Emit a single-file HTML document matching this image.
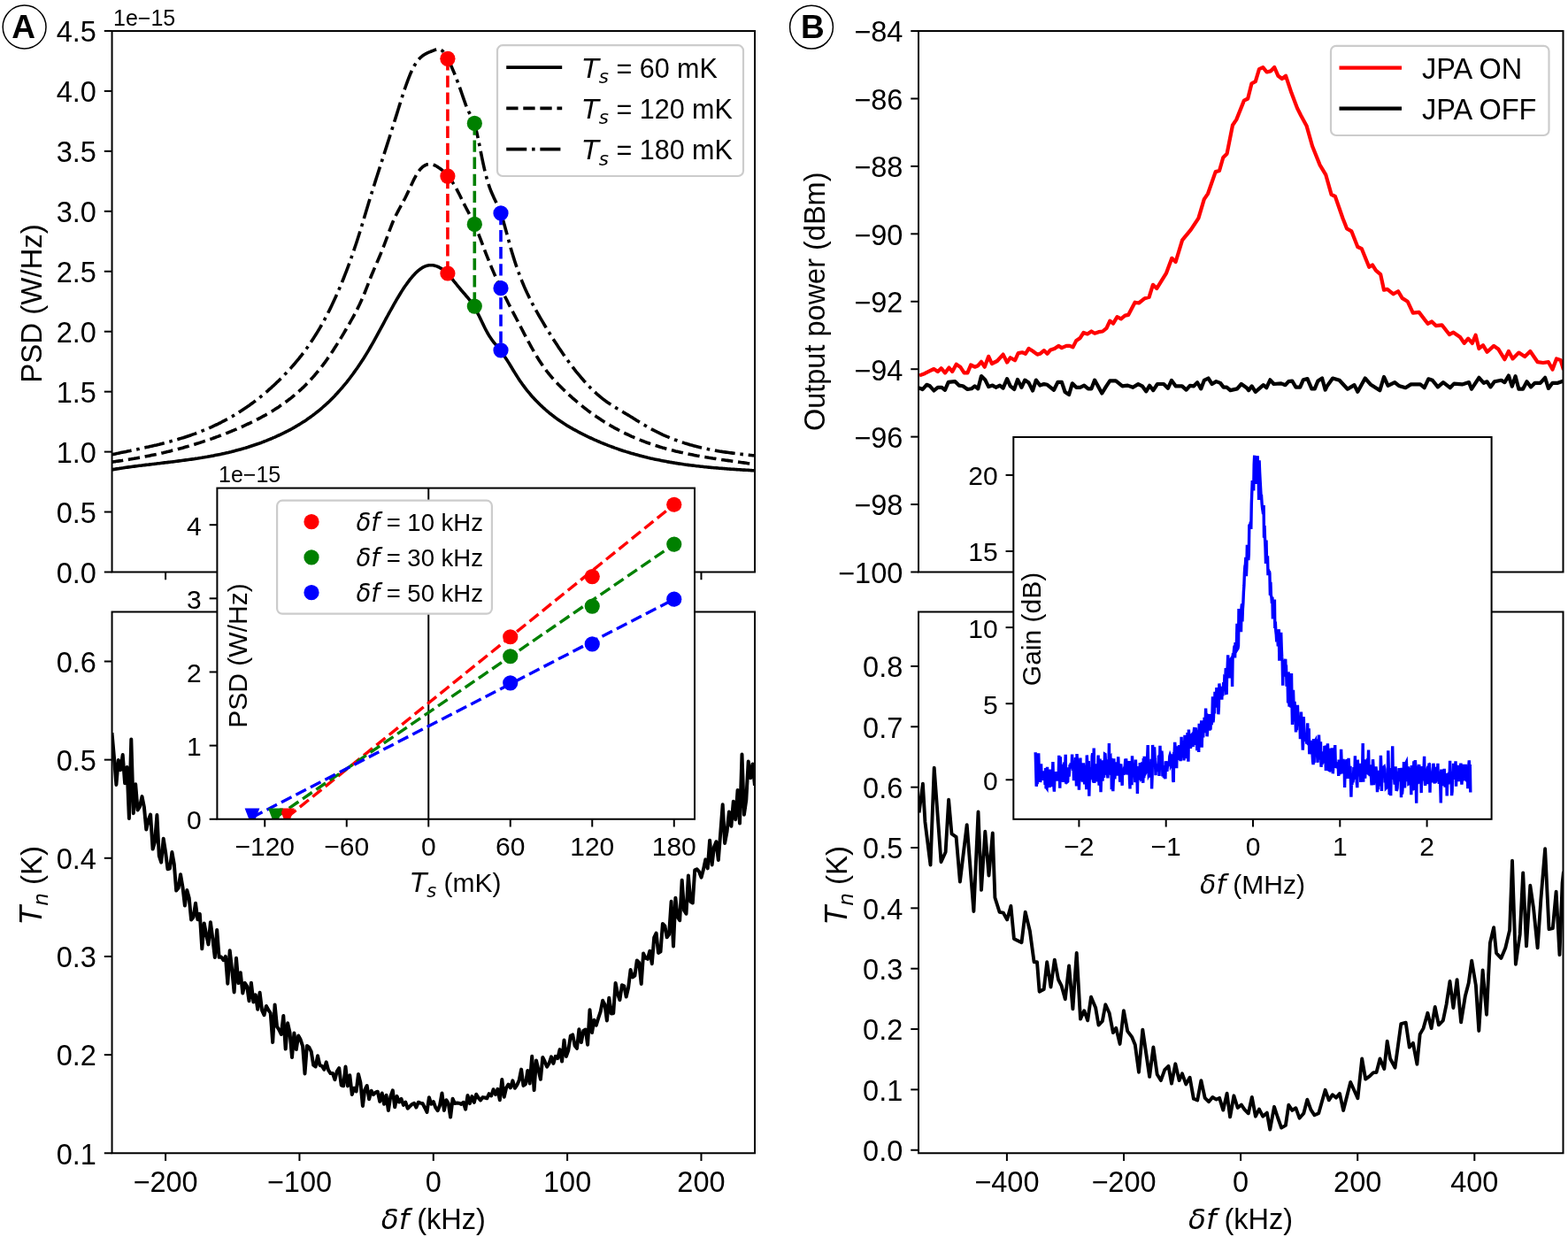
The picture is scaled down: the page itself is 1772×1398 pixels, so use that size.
<!DOCTYPE html>
<html><head><meta charset="utf-8"><title>Figure</title>
<style>html,body{margin:0;padding:0;background:#fff;overflow:hidden;}svg{display:block;}</style>
</head><body>
<svg width="1772" height="1398" viewBox="0 0 1772 1398" font-family="'Liberation Sans', Arial, sans-serif">
<defs>
<clipPath id="ca1"><rect x="126.55" y="35.05" width="726.45" height="611.45"/></clipPath>
<clipPath id="ca2"><rect x="126.55" y="691.50" width="726.45" height="611.75"/></clipPath>
<clipPath id="ca3"><rect x="245.40" y="551.60" width="539.60" height="374.15"/></clipPath>
<clipPath id="cb1"><rect x="1038.00" y="35.05" width="728.50" height="611.45"/></clipPath>
<clipPath id="cb2"><rect x="1038.00" y="691.50" width="728.50" height="611.75"/></clipPath>
<clipPath id="cb3"><rect x="1145.30" y="494.00" width="540.30" height="431.80"/></clipPath>
</defs>
<rect width="1772" height="1398" fill="#fff"/>
<polyline points="126.0,530.9 127.5,530.6 129.0,530.4 130.5,530.1 132.0,529.9 133.5,529.7 135.0,529.4 136.5,529.2 138.0,529.0 139.5,528.8 141.0,528.5 142.5,528.3 144.0,528.1 145.5,527.9 147.0,527.7 148.5,527.5 150.0,527.3 151.5,527.1 153.0,526.9 154.5,526.7 156.0,526.5 157.5,526.3 159.0,526.2 160.5,526.0 162.0,525.8 163.5,525.6 165.0,525.4 166.5,525.2 168.0,525.1 169.5,524.9 171.0,524.7 172.5,524.5 174.0,524.4 175.5,524.2 177.0,524.0 178.5,523.8 180.0,523.7 181.5,523.5 183.0,523.3 184.5,523.1 186.0,522.9 187.5,522.8 189.0,522.6 190.5,522.4 192.0,522.2 193.5,522.0 195.0,521.9 196.5,521.7 198.0,521.5 199.5,521.3 201.0,521.1 202.5,520.9 204.0,520.7 205.5,520.5 207.0,520.3 208.5,520.1 210.0,519.9 211.5,519.7 213.0,519.5 214.5,519.3 216.0,519.1 217.5,518.9 219.0,518.7 220.5,518.4 222.0,518.2 223.5,518.0 225.0,517.7 226.5,517.5 228.0,517.3 229.5,517.0 231.0,516.8 232.5,516.5 234.0,516.3 235.5,516.0 237.0,515.7 238.5,515.4 240.0,515.2 241.5,514.9 243.0,514.6 244.5,514.3 246.0,514.0 247.5,513.7 249.0,513.4 250.5,513.1 252.0,512.7 253.5,512.4 255.0,512.1 256.5,511.7 258.0,511.4 259.5,511.0 261.0,510.7 262.5,510.3 264.0,509.9 265.5,509.5 267.0,509.1 268.5,508.7 270.0,508.3 271.5,507.9 273.0,507.5 274.5,507.1 276.0,506.6 277.5,506.2 279.0,505.7 280.5,505.3 282.0,504.8 283.5,504.3 285.0,503.8 286.5,503.3 288.0,502.8 289.5,502.3 291.0,501.8 292.5,501.3 294.0,500.7 295.5,500.2 297.0,499.6 298.5,499.0 300.0,498.4 301.5,497.9 303.0,497.2 304.5,496.6 306.0,496.0 307.5,495.4 309.0,494.7 310.5,494.1 312.0,493.4 313.5,492.7 315.0,492.0 316.5,491.3 318.0,490.6 319.5,489.9 321.0,489.2 322.5,488.4 324.0,487.6 325.5,486.9 327.0,486.1 328.5,485.3 330.0,484.5 331.5,483.6 333.0,482.8 334.5,481.9 336.0,481.0 337.5,480.1 339.0,479.2 340.5,478.3 342.0,477.3 343.5,476.4 345.0,475.4 346.5,474.4 348.0,473.3 349.5,472.3 351.0,471.2 352.5,470.1 354.0,469.0 355.5,467.9 357.0,466.7 358.5,465.5 360.0,464.3 361.5,463.1 363.0,461.8 364.5,460.5 366.0,459.2 367.5,457.9 369.0,456.5 370.5,455.1 372.0,453.7 373.5,452.2 375.0,450.7 376.5,449.2 378.0,447.7 379.5,446.1 381.0,444.5 382.5,442.8 384.0,441.1 385.5,439.4 387.0,437.7 388.5,435.9 390.0,434.1 391.5,432.3 393.0,430.4 394.5,428.5 396.0,426.5 397.5,424.5 399.0,422.5 400.5,420.4 402.0,418.3 403.5,416.2 405.0,414.0 406.5,411.8 408.0,409.5 409.5,407.2 411.0,404.9 412.5,402.5 414.0,400.1 415.5,397.6 417.0,395.1 418.5,392.5 420.0,389.9 421.5,387.3 423.0,384.6 424.5,381.9 426.0,379.2 427.5,376.4 429.0,373.6 430.5,370.9 432.0,368.1 433.5,365.3 435.0,362.5 436.5,359.7 438.0,357.0 439.5,354.2 441.0,351.5 442.5,348.8 444.0,346.1 445.5,343.4 447.0,340.8 448.5,338.2 450.0,335.7 451.5,333.2 453.0,330.8 454.5,328.4 456.0,326.1 457.5,323.8 459.0,321.7 460.5,319.6 462.0,317.6 463.5,315.6 465.0,313.8 466.5,312.0 468.0,310.4 469.5,308.8 471.0,307.4 472.5,306.0 474.0,304.8 475.5,303.7 477.0,302.7 478.5,301.9 480.0,301.2 481.5,300.6 483.0,300.2 484.5,299.8 486.0,299.7 487.5,299.7 489.0,299.8 490.5,300.0 492.0,300.4 493.5,300.9 495.0,301.5 496.5,302.2 498.0,303.1 499.5,304.1 501.0,305.2 502.5,306.4 504.0,307.7 505.5,309.2 507.0,310.7 508.5,312.4 510.0,314.1 511.5,315.9 513.0,317.8 514.5,319.6 516.0,321.5 517.5,323.4 519.0,325.2 520.5,327.0 522.0,328.8 523.5,330.5 525.0,332.2 526.5,334.0 528.0,335.7 529.5,337.5 531.0,339.4 532.5,341.5 534.0,343.7 535.5,346.0 537.0,348.6 538.5,351.4 540.0,354.3 541.5,357.3 543.0,360.4 544.5,363.5 546.0,366.6 547.5,369.7 549.0,372.7 550.5,375.5 552.0,378.1 553.5,380.6 555.0,382.8 556.5,384.9 558.0,386.8 559.5,388.7 561.0,390.5 562.5,392.3 564.0,394.2 565.5,396.1 567.0,398.1 568.5,400.2 570.0,402.4 571.5,404.7 573.0,407.0 574.5,409.4 576.0,411.8 577.5,414.3 579.0,416.7 580.5,419.2 582.0,421.6 583.5,424.0 585.0,426.4 586.5,428.7 588.0,430.9 589.5,433.1 591.0,435.2 592.5,437.2 594.0,439.2 595.5,441.1 597.0,442.9 598.5,444.7 600.0,446.5 601.5,448.2 603.0,449.8 604.5,451.4 606.0,453.0 607.5,454.5 609.0,456.0 610.5,457.5 612.0,458.9 613.5,460.3 615.0,461.6 616.5,463.0 618.0,464.3 619.5,465.5 621.0,466.8 622.5,468.0 624.0,469.2 625.5,470.3 627.0,471.5 628.5,472.6 630.0,473.7 631.5,474.7 633.0,475.8 634.5,476.8 636.0,477.8 637.5,478.8 639.0,479.7 640.5,480.7 642.0,481.6 643.5,482.5 645.0,483.4 646.5,484.2 648.0,485.1 649.5,485.9 651.0,486.7 652.5,487.5 654.0,488.3 655.5,489.1 657.0,489.9 658.5,490.6 660.0,491.4 661.5,492.1 663.0,492.9 664.5,493.6 666.0,494.3 667.5,495.0 669.0,495.7 670.5,496.4 672.0,497.1 673.5,497.7 675.0,498.4 676.5,499.0 678.0,499.7 679.5,500.3 681.0,500.9 682.5,501.5 684.0,502.1 685.5,502.7 687.0,503.3 688.5,503.9 690.0,504.4 691.5,505.0 693.0,505.5 694.5,506.1 696.0,506.6 697.5,507.1 699.0,507.7 700.5,508.2 702.0,508.7 703.5,509.2 705.0,509.7 706.5,510.1 708.0,510.6 709.5,511.1 711.0,511.5 712.5,512.0 714.0,512.4 715.5,512.8 717.0,513.3 718.5,513.7 720.0,514.1 721.5,514.5 723.0,514.9 724.5,515.3 726.0,515.7 727.5,516.1 729.0,516.4 730.5,516.8 732.0,517.2 733.5,517.5 735.0,517.9 736.5,518.2 738.0,518.6 739.5,518.9 741.0,519.2 742.5,519.5 744.0,519.8 745.5,520.1 747.0,520.4 748.5,520.7 750.0,521.0 751.5,521.3 753.0,521.6 754.5,521.9 756.0,522.1 757.5,522.4 759.0,522.6 760.5,522.9 762.0,523.1 763.5,523.4 765.0,523.6 766.5,523.9 768.0,524.1 769.5,524.3 771.0,524.5 772.5,524.8 774.0,525.0 775.5,525.2 777.0,525.4 778.5,525.6 780.0,525.8 781.5,526.0 783.0,526.1 784.5,526.3 786.0,526.5 787.5,526.7 789.0,526.8 790.5,527.0 792.0,527.2 793.5,527.3 795.0,527.5 796.5,527.7 798.0,527.8 799.5,528.0 801.0,528.1 802.5,528.2 804.0,528.4 805.5,528.5 807.0,528.7 808.5,528.8 810.0,528.9 811.5,529.0 813.0,529.2 814.5,529.3 816.0,529.4 817.5,529.5 819.0,529.6 820.5,529.7 822.0,529.9 823.5,530.0 825.0,530.1 826.5,530.2 828.0,530.3 829.5,530.4 831.0,530.5 832.5,530.6 834.0,530.7 835.5,530.8 837.0,530.9 838.5,531.0 840.0,531.1 841.5,531.1 843.0,531.2 844.5,531.3 846.0,531.4 847.5,531.5 849.0,531.6 850.5,531.7 852.0,531.8 853.5,531.8" fill="none" stroke="#000" stroke-width="3.6" stroke-linecap="square" stroke-linejoin="round" clip-path="url(#ca1)" />
<polyline points="126.0,522.2 127.5,522.0 129.0,521.8 130.5,521.6 132.0,521.3 133.5,521.1 135.0,520.9 136.5,520.7 138.0,520.5 139.5,520.2 141.0,520.0 142.5,519.8 144.0,519.5 145.5,519.3 147.0,519.0 148.5,518.8 150.0,518.5 151.5,518.3 153.0,518.0 154.5,517.8 156.0,517.5 157.5,517.2 159.0,517.0 160.5,516.7 162.0,516.4 163.5,516.1 165.0,515.8 166.5,515.5 168.0,515.2 169.5,514.9 171.0,514.6 172.5,514.3 174.0,514.0 175.5,513.7 177.0,513.4 178.5,513.0 180.0,512.7 181.5,512.4 183.0,512.0 184.5,511.7 186.0,511.3 187.5,511.0 189.0,510.6 190.5,510.3 192.0,509.9 193.5,509.5 195.0,509.1 196.5,508.8 198.0,508.4 199.5,508.0 201.0,507.6 202.5,507.2 204.0,506.8 205.5,506.4 207.0,506.0 208.5,505.5 210.0,505.1 211.5,504.7 213.0,504.3 214.5,503.8 216.0,503.4 217.5,502.9 219.0,502.5 220.5,502.0 222.0,501.5 223.5,501.1 225.0,500.6 226.5,500.1 228.0,499.6 229.5,499.1 231.0,498.6 232.5,498.1 234.0,497.6 235.5,497.1 237.0,496.6 238.5,496.1 240.0,495.6 241.5,495.0 243.0,494.5 244.5,493.9 246.0,493.4 247.5,492.8 249.0,492.3 250.5,491.7 252.0,491.1 253.5,490.5 255.0,490.0 256.5,489.4 258.0,488.8 259.5,488.2 261.0,487.6 262.5,486.9 264.0,486.3 265.5,485.7 267.0,485.1 268.5,484.4 270.0,483.8 271.5,483.1 273.0,482.5 274.5,481.8 276.0,481.1 277.5,480.4 279.0,479.7 280.5,479.0 282.0,478.3 283.5,477.6 285.0,476.9 286.5,476.2 288.0,475.4 289.5,474.7 291.0,473.9 292.5,473.1 294.0,472.3 295.5,471.5 297.0,470.7 298.5,469.9 300.0,469.1 301.5,468.2 303.0,467.4 304.5,466.5 306.0,465.6 307.5,464.7 309.0,463.7 310.5,462.8 312.0,461.8 313.5,460.9 315.0,459.9 316.5,458.8 318.0,457.8 319.5,456.8 321.0,455.7 322.5,454.6 324.0,453.5 325.5,452.4 327.0,451.2 328.5,450.1 330.0,448.9 331.5,447.6 333.0,446.4 334.5,445.1 336.0,443.8 337.5,442.5 339.0,441.1 340.5,439.8 342.0,438.4 343.5,436.9 345.0,435.4 346.5,433.9 348.0,432.4 349.5,430.8 351.0,429.2 352.5,427.6 354.0,425.9 355.5,424.2 357.0,422.4 358.5,420.6 360.0,418.8 361.5,416.9 363.0,415.0 364.5,413.1 366.0,411.1 367.5,409.1 369.0,407.0 370.5,404.9 372.0,402.7 373.5,400.5 375.0,398.2 376.5,395.9 378.0,393.6 379.5,391.3 381.0,388.9 382.5,386.5 384.0,384.0 385.5,381.6 387.0,379.1 388.5,376.6 390.0,374.0 391.5,371.5 393.0,368.9 394.5,366.3 396.0,363.7 397.5,361.0 399.0,358.3 400.5,355.6 402.0,352.8 403.5,349.9 405.0,346.9 406.5,343.8 408.0,340.5 409.5,337.2 411.0,333.7 412.5,330.0 414.0,326.2 415.5,322.3 417.0,318.3 418.5,314.5 420.0,310.8 421.5,307.2 423.0,303.6 424.5,300.1 426.0,296.7 427.5,293.2 429.0,289.7 430.5,286.1 432.0,282.4 433.5,278.6 435.0,274.6 436.5,270.6 438.0,266.5 439.5,262.4 441.0,258.3 442.5,254.5 444.0,250.8 445.5,247.4 447.0,244.2 448.5,241.2 450.0,238.3 451.5,235.5 453.0,232.8 454.5,230.1 456.0,227.3 457.5,224.5 459.0,221.5 460.5,218.4 462.0,215.2 463.5,211.9 465.0,208.7 466.5,205.5 468.0,202.4 469.5,199.6 471.0,196.9 472.5,194.5 474.0,192.5 475.5,190.7 477.0,189.2 478.5,188.0 480.0,187.0 481.5,186.3 483.0,185.8 484.5,185.6 486.0,185.5 487.5,185.7 489.0,186.0 490.5,186.5 492.0,187.2 493.5,188.0 495.0,188.9 496.5,189.9 498.0,191.0 499.5,192.2 501.0,193.5 502.5,194.9 504.0,196.5 505.5,198.1 507.0,199.9 508.5,201.8 510.0,203.9 511.5,206.1 513.0,208.5 514.5,211.0 516.0,213.7 517.5,216.6 519.0,219.5 520.5,222.5 522.0,225.6 523.5,228.6 525.0,231.6 526.5,234.5 528.0,237.3 529.5,240.1 531.0,243.0 532.5,245.9 534.0,248.9 535.5,252.0 537.0,255.4 538.5,258.9 540.0,262.5 541.5,266.3 543.0,270.2 544.5,274.2 546.0,278.1 547.5,282.1 549.0,286.1 550.5,289.9 552.0,293.7 553.5,297.4 555.0,301.1 556.5,304.6 558.0,308.1 559.5,311.5 561.0,314.8 562.5,318.1 564.0,321.3 565.5,324.5 567.0,327.6 568.5,330.7 570.0,333.8 571.5,336.8 573.0,339.7 574.5,342.7 576.0,345.6 577.5,348.5 579.0,351.4 580.5,354.3 582.0,357.2 583.5,360.0 585.0,362.9 586.5,365.8 588.0,368.6 589.5,371.5 591.0,374.4 592.5,377.3 594.0,380.1 595.5,383.0 597.0,385.8 598.5,388.5 600.0,391.3 601.5,394.0 603.0,396.6 604.5,399.2 606.0,401.8 607.5,404.3 609.0,406.7 610.5,409.0 612.0,411.3 613.5,413.5 615.0,415.6 616.5,417.6 618.0,419.6 619.5,421.5 621.0,423.3 622.5,425.1 624.0,426.9 625.5,428.6 627.0,430.2 628.5,431.8 630.0,433.4 631.5,435.0 633.0,436.5 634.5,438.0 636.0,439.5 637.5,440.9 639.0,442.4 640.5,443.8 642.0,445.2 643.5,446.6 645.0,447.9 646.5,449.3 648.0,450.6 649.5,451.9 651.0,453.2 652.5,454.5 654.0,455.7 655.5,457.0 657.0,458.2 658.5,459.4 660.0,460.6 661.5,461.8 663.0,462.9 664.5,464.1 666.0,465.2 667.5,466.3 669.0,467.4 670.5,468.4 672.0,469.5 673.5,470.5 675.0,471.6 676.5,472.6 678.0,473.6 679.5,474.6 681.0,475.5 682.5,476.5 684.0,477.4 685.5,478.3 687.0,479.2 688.5,480.1 690.0,481.0 691.5,481.9 693.0,482.7 694.5,483.6 696.0,484.4 697.5,485.2 699.0,486.0 700.5,486.8 702.0,487.6 703.5,488.3 705.0,489.1 706.5,489.8 708.0,490.5 709.5,491.2 711.0,491.9 712.5,492.6 714.0,493.3 715.5,493.9 717.0,494.6 718.5,495.2 720.0,495.9 721.5,496.5 723.0,497.1 724.5,497.7 726.0,498.3 727.5,498.8 729.0,499.4 730.5,500.0 732.0,500.5 733.5,501.0 735.0,501.6 736.5,502.1 738.0,502.6 739.5,503.1 741.0,503.6 742.5,504.0 744.0,504.5 745.5,505.0 747.0,505.4 748.5,505.9 750.0,506.3 751.5,506.7 753.0,507.2 754.5,507.6 756.0,508.0 757.5,508.4 759.0,508.8 760.5,509.1 762.0,509.5 763.5,509.9 765.0,510.2 766.5,510.6 768.0,510.9 769.5,511.3 771.0,511.6 772.5,512.0 774.0,512.3 775.5,512.6 777.0,512.9 778.5,513.2 780.0,513.5 781.5,513.8 783.0,514.1 784.5,514.4 786.0,514.7 787.5,515.0 789.0,515.2 790.5,515.5 792.0,515.8 793.5,516.0 795.0,516.3 796.5,516.5 798.0,516.8 799.5,517.0 801.0,517.3 802.5,517.5 804.0,517.7 805.5,518.0 807.0,518.2 808.5,518.4 810.0,518.7 811.5,518.9 813.0,519.1 814.5,519.3 816.0,519.6 817.5,519.8 819.0,520.0 820.5,520.2 822.0,520.4 823.5,520.6 825.0,520.8 826.5,521.0 828.0,521.3 829.5,521.5 831.0,521.7 832.5,521.9 834.0,522.1 835.5,522.3 837.0,522.5 838.5,522.7 840.0,522.9 841.5,523.1 843.0,523.3 844.5,523.6 846.0,523.8 847.5,524.0 849.0,524.2 850.5,524.4 852.0,524.6 853.5,524.9" fill="none" stroke="#000" stroke-width="3.6" stroke-linecap="butt" stroke-linejoin="round" stroke-dasharray="13.32 5.76" clip-path="url(#ca1)" />
<polyline points="126.0,513.8 127.5,513.5 129.0,513.2 130.5,512.9 132.0,512.6 133.5,512.3 135.0,511.9 136.5,511.6 138.0,511.3 139.5,511.0 141.0,510.7 142.5,510.4 144.0,510.1 145.5,509.8 147.0,509.5 148.5,509.1 150.0,508.8 151.5,508.5 153.0,508.2 154.5,507.9 156.0,507.6 157.5,507.3 159.0,506.9 160.5,506.6 162.0,506.3 163.5,506.0 165.0,505.6 166.5,505.3 168.0,505.0 169.5,504.6 171.0,504.3 172.5,503.9 174.0,503.6 175.5,503.2 177.0,502.9 178.5,502.5 180.0,502.2 181.5,501.8 183.0,501.4 184.5,501.0 186.0,500.6 187.5,500.3 189.0,499.9 190.5,499.5 192.0,499.1 193.5,498.6 195.0,498.2 196.5,497.8 198.0,497.4 199.5,496.9 201.0,496.5 202.5,496.0 204.0,495.6 205.5,495.1 207.0,494.7 208.5,494.2 210.0,493.7 211.5,493.2 213.0,492.7 214.5,492.2 216.0,491.7 217.5,491.1 219.0,490.6 220.5,490.1 222.0,489.5 223.5,488.9 225.0,488.4 226.5,487.8 228.0,487.2 229.5,486.6 231.0,486.0 232.5,485.4 234.0,484.7 235.5,484.1 237.0,483.4 238.5,482.8 240.0,482.1 241.5,481.4 243.0,480.7 244.5,480.0 246.0,479.3 247.5,478.5 249.0,477.8 250.5,477.0 252.0,476.2 253.5,475.5 255.0,474.7 256.5,473.8 258.0,473.0 259.5,472.2 261.0,471.3 262.5,470.5 264.0,469.6 265.5,468.7 267.0,467.8 268.5,466.9 270.0,465.9 271.5,465.0 273.0,464.0 274.5,463.0 276.0,462.0 277.5,461.0 279.0,460.0 280.5,458.9 282.0,457.9 283.5,456.8 285.0,455.7 286.5,454.6 288.0,453.5 289.5,452.3 291.0,451.2 292.5,450.0 294.0,448.8 295.5,447.6 297.0,446.4 298.5,445.1 300.0,443.9 301.5,442.6 303.0,441.3 304.5,439.9 306.0,438.6 307.5,437.2 309.0,435.9 310.5,434.5 312.0,433.1 313.5,431.6 315.0,430.2 316.5,428.7 318.0,427.2 319.5,425.7 321.0,424.1 322.5,422.6 324.0,421.0 325.5,419.4 327.0,417.8 328.5,416.1 330.0,414.4 331.5,412.7 333.0,411.0 334.5,409.2 336.0,407.4 337.5,405.6 339.0,403.7 340.5,401.8 342.0,399.8 343.5,397.9 345.0,395.8 346.5,393.8 348.0,391.7 349.5,389.5 351.0,387.3 352.5,385.1 354.0,382.8 355.5,380.4 357.0,378.0 358.5,375.6 360.0,373.1 361.5,370.6 363.0,368.0 364.5,365.3 366.0,362.6 367.5,359.8 369.0,357.0 370.5,354.1 372.0,351.1 373.5,348.1 375.0,345.0 376.5,341.8 378.0,338.6 379.5,335.3 381.0,331.9 382.5,328.5 384.0,325.0 385.5,321.4 387.0,317.8 388.5,314.0 390.0,310.2 391.5,306.3 393.0,302.3 394.5,298.3 396.0,294.2 397.5,289.9 399.0,285.6 400.5,281.2 402.0,276.7 403.5,272.2 405.0,267.5 406.5,262.8 408.0,257.9 409.5,253.0 411.0,248.0 412.5,243.0 414.0,238.0 415.5,233.0 417.0,228.0 418.5,223.1 420.0,218.3 421.5,213.4 423.0,208.7 424.5,203.9 426.0,199.2 427.5,194.6 429.0,189.9 430.5,185.2 432.0,180.6 433.5,175.9 435.0,171.3 436.5,166.6 438.0,161.9 439.5,157.2 441.0,152.5 442.5,147.7 444.0,143.0 445.5,138.2 447.0,133.4 448.5,128.6 450.0,123.8 451.5,118.9 453.0,114.2 454.5,109.4 456.0,104.8 457.5,100.3 459.0,96.0 460.5,91.8 462.0,87.9 463.5,84.1 465.0,80.7 466.5,77.5 468.0,74.7 469.5,72.2 471.0,70.0 472.5,68.0 474.0,66.3 475.5,64.8 477.0,63.5 478.5,62.4 480.0,61.5 481.5,60.6 483.0,59.9 484.5,59.2 486.0,58.6 487.5,58.0 489.0,57.4 490.5,56.8 492.0,56.2 493.5,55.7 495.0,55.4 496.5,55.5 498.0,56.0 499.5,57.1 501.0,58.6 502.5,60.6 504.0,63.0 505.5,65.6 507.0,68.5 508.5,71.5 510.0,74.8 511.5,78.2 513.0,81.7 514.5,85.5 516.0,89.3 517.5,93.3 519.0,97.4 520.5,101.7 522.0,106.0 523.5,110.4 525.0,114.7 526.5,118.8 528.0,122.6 529.5,125.9 531.0,128.7 532.5,131.4 534.0,134.4 535.5,138.0 537.0,142.6 538.5,148.4 540.0,155.1 541.5,162.4 543.0,169.9 544.5,177.5 546.0,184.7 547.5,191.4 549.0,197.5 550.5,203.0 552.0,207.9 553.5,212.4 555.0,216.3 556.5,219.8 558.0,223.1 559.5,226.2 561.0,229.3 562.5,232.5 564.0,235.9 565.5,239.7 567.0,244.0 568.5,248.8 570.0,254.0 571.5,259.4 573.0,264.9 574.5,270.5 576.0,276.0 577.5,281.4 579.0,286.5 580.5,291.4 582.0,296.1 583.5,300.6 585.0,304.9 586.5,309.0 588.0,313.0 589.5,316.8 591.0,320.5 592.5,324.1 594.0,327.5 595.5,330.8 597.0,333.9 598.5,337.0 600.0,340.0 601.5,342.9 603.0,345.7 604.5,348.5 606.0,351.2 607.5,353.9 609.0,356.5 610.5,359.1 612.0,361.6 613.5,364.2 615.0,366.7 616.5,369.2 618.0,371.6 619.5,374.1 621.0,376.5 622.5,378.9 624.0,381.3 625.5,383.7 627.0,386.0 628.5,388.3 630.0,390.6 631.5,392.9 633.0,395.1 634.5,397.3 636.0,399.5 637.5,401.6 639.0,403.8 640.5,405.9 642.0,407.9 643.5,410.0 645.0,412.0 646.5,414.0 648.0,415.9 649.5,417.9 651.0,419.8 652.5,421.6 654.0,423.4 655.5,425.2 657.0,427.0 658.5,428.7 660.0,430.5 661.5,432.1 663.0,433.8 664.5,435.4 666.0,436.9 667.5,438.5 669.0,440.0 670.5,441.4 672.0,442.9 673.5,444.2 675.0,445.6 676.5,446.9 678.0,448.2 679.5,449.4 681.0,450.6 682.5,451.8 684.0,452.9 685.5,454.0 687.0,455.1 688.5,456.1 690.0,457.1 691.5,458.1 693.0,459.0 694.5,460.0 696.0,460.9 697.5,461.8 699.0,462.7 700.5,463.5 702.0,464.4 703.5,465.3 705.0,466.2 706.5,467.1 708.0,468.0 709.5,468.9 711.0,469.8 712.5,470.7 714.0,471.6 715.5,472.6 717.0,473.5 718.5,474.4 720.0,475.4 721.5,476.3 723.0,477.2 724.5,478.1 726.0,479.0 727.5,480.0 729.0,480.8 730.5,481.7 732.0,482.6 733.5,483.4 735.0,484.3 736.5,485.1 738.0,485.9 739.5,486.7 741.0,487.4 742.5,488.2 744.0,488.9 745.5,489.7 747.0,490.4 748.5,491.1 750.0,491.8 751.5,492.4 753.0,493.1 754.5,493.7 756.0,494.3 757.5,495.0 759.0,495.6 760.5,496.1 762.0,496.7 763.5,497.3 765.0,497.8 766.5,498.4 768.0,498.9 769.5,499.4 771.0,499.9 772.5,500.4 774.0,500.9 775.5,501.3 777.0,501.8 778.5,502.2 780.0,502.7 781.5,503.1 783.0,503.5 784.5,503.9 786.0,504.3 787.5,504.7 789.0,505.1 790.5,505.4 792.0,505.8 793.5,506.1 795.0,506.5 796.5,506.8 798.0,507.1 799.5,507.4 801.0,507.8 802.5,508.1 804.0,508.3 805.5,508.6 807.0,508.9 808.5,509.2 810.0,509.4 811.5,509.7 813.0,510.0 814.5,510.2 816.0,510.4 817.5,510.7 819.0,510.9 820.5,511.1 822.0,511.3 823.5,511.5 825.0,511.7 826.5,511.9 828.0,512.1 829.5,512.3 831.0,512.5 832.5,512.7 834.0,512.9 835.5,513.1 837.0,513.2 838.5,513.4 840.0,513.6 841.5,513.7 843.0,513.9 844.5,514.1 846.0,514.2 847.5,514.4 849.0,514.5 850.5,514.7 852.0,514.8 853.5,515.0" fill="none" stroke="#000" stroke-width="3.6" stroke-linecap="butt" stroke-linejoin="round" stroke-dasharray="23.04 5.76 3.60 5.76" clip-path="url(#ca1)" />
<polyline points="505.9,66.3 505.9,309.0" fill="none" stroke="#ff0000" stroke-width="3.6" stroke-linecap="butt" stroke-linejoin="round" stroke-dasharray="13.32 5.76" />
<polyline points="536.3,139.4 536.3,346.1" fill="none" stroke="#008000" stroke-width="3.6" stroke-linecap="butt" stroke-linejoin="round" stroke-dasharray="13.32 5.76" />
<polyline points="566.0,240.9 566.0,395.8" fill="none" stroke="#0000ff" stroke-width="3.6" stroke-linecap="butt" stroke-linejoin="round" stroke-dasharray="13.32 5.76" />
<circle cx="505.90" cy="66.30" r="8.6" fill="#ff0000"/>
<circle cx="505.90" cy="199.10" r="8.6" fill="#ff0000"/>
<circle cx="505.90" cy="309.00" r="8.6" fill="#ff0000"/>
<circle cx="536.30" cy="139.40" r="8.6" fill="#008000"/>
<circle cx="536.30" cy="253.40" r="8.6" fill="#008000"/>
<circle cx="536.30" cy="346.10" r="8.6" fill="#008000"/>
<circle cx="566.00" cy="240.90" r="8.6" fill="#0000ff"/>
<circle cx="566.00" cy="325.70" r="8.6" fill="#0000ff"/>
<circle cx="566.00" cy="395.80" r="8.6" fill="#0000ff"/>
<rect x="126.55" y="35.05" width="726.45" height="611.45" fill="none" stroke="#000" stroke-width="2.0" stroke-linejoin="miter"/>
<line x1="117.80" y1="646.50" x2="126.55" y2="646.50" stroke="#000" stroke-width="2.0" />
<text x="108.85" y="658.85" font-size="32.5" text-anchor="end">0.0</text>
<line x1="117.80" y1="578.55" x2="126.55" y2="578.55" stroke="#000" stroke-width="2.0" />
<text x="108.85" y="590.90" font-size="32.5" text-anchor="end">0.5</text>
<line x1="117.80" y1="510.60" x2="126.55" y2="510.60" stroke="#000" stroke-width="2.0" />
<text x="108.85" y="522.95" font-size="32.5" text-anchor="end">1.0</text>
<line x1="117.80" y1="442.65" x2="126.55" y2="442.65" stroke="#000" stroke-width="2.0" />
<text x="108.85" y="455.00" font-size="32.5" text-anchor="end">1.5</text>
<line x1="117.80" y1="374.70" x2="126.55" y2="374.70" stroke="#000" stroke-width="2.0" />
<text x="108.85" y="387.05" font-size="32.5" text-anchor="end">2.0</text>
<line x1="117.80" y1="306.75" x2="126.55" y2="306.75" stroke="#000" stroke-width="2.0" />
<text x="108.85" y="319.10" font-size="32.5" text-anchor="end">2.5</text>
<line x1="117.80" y1="238.80" x2="126.55" y2="238.80" stroke="#000" stroke-width="2.0" />
<text x="108.85" y="251.15" font-size="32.5" text-anchor="end">3.0</text>
<line x1="117.80" y1="170.85" x2="126.55" y2="170.85" stroke="#000" stroke-width="2.0" />
<text x="108.85" y="183.20" font-size="32.5" text-anchor="end">3.5</text>
<line x1="117.80" y1="102.90" x2="126.55" y2="102.90" stroke="#000" stroke-width="2.0" />
<text x="108.85" y="115.25" font-size="32.5" text-anchor="end">4.0</text>
<line x1="117.80" y1="34.95" x2="126.55" y2="34.95" stroke="#000" stroke-width="2.0" />
<text x="108.85" y="47.30" font-size="32.5" text-anchor="end">4.5</text>
<line x1="187.09" y1="646.50" x2="187.09" y2="655.25" stroke="#000" stroke-width="2.0" />
<line x1="338.44" y1="646.50" x2="338.44" y2="655.25" stroke="#000" stroke-width="2.0" />
<line x1="489.78" y1="646.50" x2="489.78" y2="655.25" stroke="#000" stroke-width="2.0" />
<line x1="641.12" y1="646.50" x2="641.12" y2="655.25" stroke="#000" stroke-width="2.0" />
<line x1="792.47" y1="646.50" x2="792.47" y2="655.25" stroke="#000" stroke-width="2.0" />
<text x="128.00" y="28.80" font-size="25" text-anchor="start">1e−15</text>
<text x="47.00" y="343.00" font-size="33" text-anchor="middle" transform="rotate(-90 47.00 343.00)">PSD (W/Hz)</text>
<rect x="562.00" y="51.20" width="278.00" height="147.80" rx="6" ry="6" fill="#fff" stroke="#cccccc" stroke-width="2.2"/>
<polyline points="572.2,76.1 635.2,76.1" fill="none" stroke="#000" stroke-width="3.6" stroke-linecap="butt" stroke-linejoin="round" />
<text x="658.20" y="87.90" font-size="30.5" text-anchor="start"><tspan font-family="'DejaVu Sans', sans-serif" font-style="oblique">T</tspan><tspan font-family="'DejaVu Sans', sans-serif" font-style="oblique" font-size="21.35" dy="6.10">s</tspan><tspan dy="-6.10"> </tspan>= 60 mK</text>
<polyline points="572.2,122.4 635.2,122.4" fill="none" stroke="#000" stroke-width="3.6" stroke-linecap="butt" stroke-linejoin="round" stroke-dasharray="13.32 5.76" />
<text x="658.20" y="134.20" font-size="30.5" text-anchor="start"><tspan font-family="'DejaVu Sans', sans-serif" font-style="oblique">T</tspan><tspan font-family="'DejaVu Sans', sans-serif" font-style="oblique" font-size="21.35" dy="6.10">s</tspan><tspan dy="-6.10"> </tspan>= 120 mK</text>
<polyline points="572.2,168.6 635.2,168.6" fill="none" stroke="#000" stroke-width="3.6" stroke-linecap="butt" stroke-linejoin="round" stroke-dasharray="23.04 5.76 3.60 5.76" />
<text x="658.20" y="180.40" font-size="30.5" text-anchor="start"><tspan font-family="'DejaVu Sans', sans-serif" font-style="oblique">T</tspan><tspan font-family="'DejaVu Sans', sans-serif" font-style="oblique" font-size="21.35" dy="6.10">s</tspan><tspan dy="-6.10"> </tspan>= 180 mK</text>
<polyline points="126.5,828.1 129.0,856.5 131.4,886.9 133.8,858.9 136.2,870.3 138.7,853.1 141.1,885.2 143.5,866.9 145.9,925.0 148.3,835.5 150.8,919.2 153.2,886.3 155.6,915.4 158.0,911.4 160.5,900.1 162.9,912.2 165.3,937.5 167.7,926.8 170.1,920.5 172.6,959.6 175.0,951.6 177.4,921.1 179.8,967.2 182.2,974.6 184.7,947.8 187.1,963.1 189.5,982.2 191.9,981.6 194.4,963.0 196.8,976.6 199.2,1006.6 201.6,1003.6 204.0,988.2 206.5,1002.8 208.9,1023.6 211.3,1006.1 213.7,1014.8 216.1,1039.6 218.6,1036.4 221.0,1020.7 223.4,1039.2 225.8,1032.8 228.3,1072.3 230.7,1043.5 233.1,1056.0 235.5,1067.4 237.9,1042.2 240.4,1061.2 242.8,1082.0 245.2,1051.0 247.6,1081.8 250.0,1081.5 252.5,1085.2 254.9,1080.9 257.3,1111.7 259.7,1074.3 262.2,1096.2 264.6,1121.4 267.0,1082.8 269.4,1111.0 271.8,1099.2 274.3,1122.6 276.7,1110.9 279.1,1114.5 281.5,1131.3 283.9,1110.8 286.4,1132.5 288.8,1124.4 291.2,1140.8 293.6,1121.8 296.1,1141.9 298.5,1147.2 300.9,1137.0 303.3,1141.3 305.7,1144.8 308.2,1178.0 310.6,1135.4 313.0,1160.2 315.4,1163.8 317.8,1169.0 320.3,1147.9 322.7,1185.6 325.1,1156.3 327.5,1166.7 330.0,1195.1 332.4,1167.6 334.8,1186.1 337.2,1170.5 339.6,1174.8 342.1,1182.3 344.5,1213.4 346.9,1182.0 349.3,1183.6 351.7,1188.3 354.2,1203.6 356.6,1205.5 359.0,1193.3 361.4,1203.8 363.9,1204.8 366.3,1208.8 368.7,1200.3 371.1,1209.4 373.5,1213.1 376.0,1213.1 378.4,1220.2 380.8,1210.8 383.2,1207.1 385.7,1226.6 388.1,1227.2 390.5,1205.5 392.9,1227.4 395.3,1215.2 397.8,1237.0 400.2,1229.7 402.6,1233.5 405.0,1214.0 407.4,1223.6 409.9,1249.9 412.3,1231.7 414.7,1227.0 417.1,1242.3 419.6,1232.7 422.0,1237.1 424.4,1234.7 426.8,1233.7 429.2,1244.9 431.7,1235.5 434.1,1247.8 436.5,1237.8 438.9,1254.9 441.3,1239.5 443.8,1232.3 446.2,1251.3 448.6,1238.9 451.0,1245.5 453.5,1241.9 455.9,1248.9 458.3,1245.7 460.7,1252.7 463.1,1250.4 465.6,1248.0 468.0,1246.9 470.4,1251.5 472.8,1245.7 475.2,1246.6 477.7,1247.3 480.1,1252.0 482.5,1257.0 484.9,1240.2 487.4,1247.8 489.8,1245.0 492.2,1251.7 494.6,1255.1 497.0,1249.4 499.5,1235.4 501.9,1254.9 504.3,1243.2 506.7,1246.8 509.1,1262.6 511.6,1241.7 514.0,1247.0 516.4,1246.5 518.8,1246.7 521.3,1247.9 523.7,1245.9 526.1,1253.6 528.5,1238.0 530.9,1247.1 533.4,1239.1 535.8,1245.9 538.2,1236.7 540.6,1240.6 543.0,1243.5 545.5,1240.1 547.9,1240.5 550.3,1241.3 552.7,1236.2 555.2,1238.5 557.6,1231.2 560.0,1236.9 562.4,1230.9 564.8,1243.2 567.3,1219.9 569.7,1239.8 572.1,1229.5 574.5,1225.6 576.9,1229.4 579.4,1221.4 581.8,1229.8 584.2,1226.4 586.6,1221.1 589.1,1208.6 591.5,1226.9 593.9,1225.3 596.3,1209.9 598.7,1224.5 601.2,1193.8 603.6,1232.1 606.0,1198.5 608.4,1208.7 610.9,1219.7 613.3,1194.9 615.7,1199.7 618.1,1205.6 620.5,1201.8 623.0,1194.3 625.4,1201.9 627.8,1193.8 630.2,1196.1 632.6,1186.1 635.1,1199.6 637.5,1175.4 639.9,1193.9 642.3,1187.0 644.8,1170.8 647.2,1169.4 649.6,1181.7 652.0,1184.8 654.4,1163.3 656.9,1178.1 659.3,1165.0 661.7,1163.5 664.1,1180.7 666.5,1141.3 669.0,1167.1 671.4,1152.8 673.8,1158.8 676.2,1150.6 678.7,1143.1 681.1,1130.8 683.5,1135.5 685.9,1153.4 688.3,1127.7 690.8,1145.4 693.2,1145.2 695.6,1110.9 698.0,1123.0 700.4,1130.2 702.9,1113.3 705.3,1114.3 707.7,1126.5 710.1,1116.2 712.6,1096.1 715.0,1104.4 717.4,1102.6 719.8,1085.5 722.2,1087.9 724.7,1112.1 727.1,1077.5 729.5,1082.6 731.9,1083.8 734.3,1074.8 736.8,1089.2 739.2,1059.7 741.6,1054.5 744.0,1076.9 746.5,1075.6 748.9,1043.9 751.3,1046.3 753.7,1059.3 756.1,1056.1 758.6,1018.8 761.0,1069.5 763.4,1014.7 765.8,1036.5 768.2,1040.2 770.7,994.7 773.1,1029.0 775.5,1032.7 777.9,989.5 780.4,1019.1 782.8,1020.5 785.2,983.3 787.6,982.2 790.0,985.1 792.5,991.6 794.9,982.8 797.3,971.4 799.7,981.4 802.1,949.7 804.6,977.4 807.0,957.2 809.4,951.2 811.8,972.1 814.3,940.6 816.7,909.3 819.1,953.0 821.5,940.2 823.9,917.6 826.4,933.8 828.8,905.7 831.2,926.2 833.6,893.0 836.0,930.4 838.5,852.6 840.9,920.8 843.3,903.9 845.7,860.6 848.2,879.3 850.6,863.4 853.0,887.7" fill="none" stroke="#000" stroke-width="4.0" stroke-linecap="butt" stroke-linejoin="round" clip-path="url(#ca2)" />
<rect x="126.55" y="691.50" width="726.45" height="611.75" fill="none" stroke="#000" stroke-width="2.0" stroke-linejoin="miter"/>
<line x1="117.80" y1="1303.25" x2="126.55" y2="1303.25" stroke="#000" stroke-width="2.0" />
<text x="108.85" y="1315.60" font-size="32.5" text-anchor="end">0.1</text>
<line x1="117.80" y1="1192.10" x2="126.55" y2="1192.10" stroke="#000" stroke-width="2.0" />
<text x="108.85" y="1204.45" font-size="32.5" text-anchor="end">0.2</text>
<line x1="117.80" y1="1080.95" x2="126.55" y2="1080.95" stroke="#000" stroke-width="2.0" />
<text x="108.85" y="1093.30" font-size="32.5" text-anchor="end">0.3</text>
<line x1="117.80" y1="969.80" x2="126.55" y2="969.80" stroke="#000" stroke-width="2.0" />
<text x="108.85" y="982.15" font-size="32.5" text-anchor="end">0.4</text>
<line x1="117.80" y1="858.65" x2="126.55" y2="858.65" stroke="#000" stroke-width="2.0" />
<text x="108.85" y="871.00" font-size="32.5" text-anchor="end">0.5</text>
<line x1="117.80" y1="747.50" x2="126.55" y2="747.50" stroke="#000" stroke-width="2.0" />
<text x="108.85" y="759.85" font-size="32.5" text-anchor="end">0.6</text>
<line x1="187.09" y1="1303.25" x2="187.09" y2="1312.00" stroke="#000" stroke-width="2.0" />
<text x="187.09" y="1346.59" font-size="32.5" text-anchor="middle">−200</text>
<line x1="338.44" y1="1303.25" x2="338.44" y2="1312.00" stroke="#000" stroke-width="2.0" />
<text x="338.44" y="1346.59" font-size="32.5" text-anchor="middle">−100</text>
<line x1="489.78" y1="1303.25" x2="489.78" y2="1312.00" stroke="#000" stroke-width="2.0" />
<text x="489.78" y="1346.59" font-size="32.5" text-anchor="middle">0</text>
<line x1="641.12" y1="1303.25" x2="641.12" y2="1312.00" stroke="#000" stroke-width="2.0" />
<text x="641.12" y="1346.59" font-size="32.5" text-anchor="middle">100</text>
<line x1="792.47" y1="1303.25" x2="792.47" y2="1312.00" stroke="#000" stroke-width="2.0" />
<text x="792.47" y="1346.59" font-size="32.5" text-anchor="middle">200</text>
<text x="47.00" y="1000.00" font-size="33" text-anchor="middle" transform="rotate(-90 47.00 1000.00)"><tspan font-family="'DejaVu Sans', sans-serif" font-style="oblique">T</tspan><tspan font-family="'DejaVu Sans', sans-serif" font-style="oblique" font-size="23.10" dy="6.60">n</tspan><tspan dy="-6.60"> </tspan>(K)</text>
<text x="489.80" y="1389.00" font-size="32.5" text-anchor="middle"><tspan font-family="'DejaVu Sans', sans-serif" font-style="oblique">δf</tspan> (kHz)</text>
<rect x="245.40" y="551.60" width="539.60" height="374.15" fill="#fff"/>
<line x1="484.25" y1="551.60" x2="484.25" y2="925.75" stroke="#000" stroke-width="2.0" />
<polyline points="324.4,923.8 761.8,570.2" fill="none" stroke="#ff0000" stroke-width="3.4" stroke-linecap="butt" stroke-linejoin="round" stroke-dasharray="12.95 5.60" clip-path="url(#ca3)" />
<polyline points="311.4,923.8 761.8,615.1" fill="none" stroke="#008000" stroke-width="3.4" stroke-linecap="butt" stroke-linejoin="round" stroke-dasharray="12.95 5.60" clip-path="url(#ca3)" />
<polyline points="285.0,923.8 761.8,677.2" fill="none" stroke="#0000ff" stroke-width="3.4" stroke-linecap="butt" stroke-linejoin="round" stroke-dasharray="12.95 5.60" clip-path="url(#ca3)" />
<circle cx="576.75" cy="719.73" r="8.6" fill="#ff0000"/>
<circle cx="669.25" cy="651.55" r="8.6" fill="#ff0000"/>
<circle cx="761.76" cy="570.24" r="8.6" fill="#ff0000"/>
<circle cx="576.75" cy="741.76" r="8.6" fill="#008000"/>
<circle cx="669.25" cy="685.06" r="8.6" fill="#008000"/>
<circle cx="761.76" cy="615.06" r="8.6" fill="#008000"/>
<circle cx="576.75" cy="771.86" r="8.6" fill="#0000ff"/>
<circle cx="669.25" cy="727.88" r="8.6" fill="#0000ff"/>
<circle cx="761.76" cy="677.16" r="8.6" fill="#0000ff"/>
<polygon points="316.00,913.60 332.80,913.60 324.40,935.10" fill="#ff0000" clip-path="url(#ca3)"/>
<polygon points="303.00,913.60 319.80,913.60 311.40,935.10" fill="#008000" clip-path="url(#ca3)"/>
<polygon points="276.60,913.60 293.40,913.60 285.00,935.10" fill="#0000ff" clip-path="url(#ca3)"/>
<rect x="245.40" y="551.60" width="539.60" height="374.15" fill="none" stroke="#000" stroke-width="2.0" stroke-linejoin="miter"/>
<line x1="236.65" y1="925.75" x2="245.40" y2="925.75" stroke="#000" stroke-width="2.0" />
<text x="227.70" y="937.15" font-size="30" text-anchor="end">0</text>
<line x1="236.65" y1="842.61" x2="245.40" y2="842.61" stroke="#000" stroke-width="2.0" />
<text x="227.70" y="854.01" font-size="30" text-anchor="end">1</text>
<line x1="236.65" y1="759.47" x2="245.40" y2="759.47" stroke="#000" stroke-width="2.0" />
<text x="227.70" y="770.87" font-size="30" text-anchor="end">2</text>
<line x1="236.65" y1="676.33" x2="245.40" y2="676.33" stroke="#000" stroke-width="2.0" />
<text x="227.70" y="687.73" font-size="30" text-anchor="end">3</text>
<line x1="236.65" y1="593.19" x2="245.40" y2="593.19" stroke="#000" stroke-width="2.0" />
<text x="227.70" y="604.59" font-size="30" text-anchor="end">4</text>
<line x1="299.25" y1="925.75" x2="299.25" y2="934.50" stroke="#000" stroke-width="2.0" />
<text x="299.25" y="967.20" font-size="30" text-anchor="middle">−120</text>
<line x1="391.75" y1="925.75" x2="391.75" y2="934.50" stroke="#000" stroke-width="2.0" />
<text x="391.75" y="967.20" font-size="30" text-anchor="middle">−60</text>
<line x1="484.25" y1="925.75" x2="484.25" y2="934.50" stroke="#000" stroke-width="2.0" />
<text x="484.25" y="967.20" font-size="30" text-anchor="middle">0</text>
<line x1="576.75" y1="925.75" x2="576.75" y2="934.50" stroke="#000" stroke-width="2.0" />
<text x="576.75" y="967.20" font-size="30" text-anchor="middle">60</text>
<line x1="669.25" y1="925.75" x2="669.25" y2="934.50" stroke="#000" stroke-width="2.0" />
<text x="669.25" y="967.20" font-size="30" text-anchor="middle">120</text>
<line x1="761.76" y1="925.75" x2="761.76" y2="934.50" stroke="#000" stroke-width="2.0" />
<text x="761.76" y="967.20" font-size="30" text-anchor="middle">180</text>
<text x="247.00" y="544.50" font-size="25" text-anchor="start">1e−15</text>
<text x="278.60" y="741.00" font-size="30" text-anchor="middle" transform="rotate(-90 278.60 741.00)">PSD (W/Hz)</text>
<text x="515.20" y="1008.00" font-size="30" text-anchor="middle"><tspan font-family="'DejaVu Sans', sans-serif" font-style="oblique">T</tspan><tspan font-family="'DejaVu Sans', sans-serif" font-style="oblique" font-size="21.00" dy="6.00">s</tspan><tspan dy="-6.00"> </tspan>(mK)</text>
<rect x="313.10" y="565.70" width="242.80" height="128.00" rx="6" ry="6" fill="#fff" stroke="#cccccc" stroke-width="2.2"/>
<circle cx="352" cy="589.70" r="8.6" fill="#ff0000"/>
<text x="402.50" y="599.70" font-size="27.5" text-anchor="start"><tspan font-family="'DejaVu Sans', sans-serif" font-style="oblique">δf</tspan> = 10 kHz</text>
<circle cx="352" cy="629.90" r="8.6" fill="#008000"/>
<text x="402.50" y="639.90" font-size="27.5" text-anchor="start"><tspan font-family="'DejaVu Sans', sans-serif" font-style="oblique">δf</tspan> = 30 kHz</text>
<circle cx="352" cy="669.70" r="8.6" fill="#0000ff"/>
<text x="402.50" y="679.70" font-size="27.5" text-anchor="start"><tspan font-family="'DejaVu Sans', sans-serif" font-style="oblique">δf</tspan> = 50 kHz</text>
<polyline points="1039.0,424.4 1044.9,422.2 1050.9,419.2 1055.4,417.0 1059.8,419.9 1063.6,416.2 1068.0,421.4 1072.5,415.5 1076.2,419.9 1080.7,411.7 1085.2,414.7 1089.6,421.4 1093.4,421.4 1097.1,412.5 1101.6,414.7 1105.3,413.2 1109.0,408.8 1112.7,414.7 1117.2,402.8 1120.9,411.0 1126.9,408.0 1133.6,400.6 1138.1,409.5 1141.8,404.3 1147.0,407.3 1150.7,399.1 1155.2,398.3 1158.9,399.8 1162.6,393.9 1167.1,396.8 1172.3,400.6 1175.3,399.8 1179.8,396.1 1183.5,399.8 1187.2,395.4 1191.7,393.9 1196.2,390.9 1199.9,393.1 1205.1,390.9 1208.8,390.9 1212.5,392.4 1216.3,384.9 1220.7,381.9 1224.5,376.0 1228.9,377.5 1233.4,374.5 1237.1,376.7 1241.6,375.2 1246.1,374.5 1250.5,370.8 1254.3,362.6 1258.0,365.6 1262.5,358.1 1266.9,360.3 1271.4,356.6 1275.1,355.9 1282.6,341.7 1287.0,342.5 1293.7,337.2 1298.6,335.8 1302.9,321.8 1307.2,326.1 1317.9,308.9 1324.3,291.8 1328.6,296.0 1336.1,271.4 1345.8,259.6 1354.4,246.7 1360.8,225.2 1365.1,218.8 1373.7,194.1 1378.0,193.0 1382.3,178.0 1386.6,173.7 1393.0,141.5 1397.3,135.1 1405.9,113.6 1410.2,111.5 1414.5,94.3 1418.8,92.2 1423.0,78.2 1427.3,76.1 1431.6,81.5 1435.9,80.4 1440.2,76.1 1444.5,85.8 1448.8,89.0 1453.1,85.8 1459.5,105.1 1466.0,122.2 1470.3,130.8 1476.7,142.6 1483.1,165.2 1491.7,186.6 1498.2,197.3 1504.6,219.9 1508.9,222.0 1517.5,246.7 1522.1,258.4 1527.4,261.4 1534.3,279.0 1538.9,281.2 1547.2,301.8 1551.0,299.5 1554.9,305.6 1560.2,310.2 1564.0,327.7 1567.8,326.9 1574.7,332.3 1580.0,329.2 1584.6,336.9 1590.7,340.7 1596.8,353.6 1603.6,352.9 1613.5,365.8 1618.1,363.5 1622.7,368.1 1629.5,367.3 1637.9,378.0 1642.5,375.7 1650.1,381.0 1654.7,387.9 1659.2,382.6 1663.8,387.9 1667.6,378.7 1671.4,394.0 1676.0,390.2 1680.6,397.8 1688.2,390.9 1693.5,394.8 1700.4,406.2 1704.9,397.0 1709.5,405.4 1716.4,398.6 1723.2,403.1 1729.3,397.0 1737.7,409.2 1743.8,410.0 1749.9,409.2 1754.5,417.6 1759.0,405.4 1763.6,406.9 1767.0,418.0" fill="none" stroke="#ff0000" stroke-width="4.2" stroke-linecap="butt" stroke-linejoin="round" clip-path="url(#cb1)" />
<polyline points="1037.0,437.8 1042.7,440.0 1047.2,434.8 1050.9,436.3 1055.4,441.5 1059.8,437.8 1064.3,437.8 1068.0,440.8 1071.8,431.9 1079.2,431.1 1083.7,435.6 1088.1,436.3 1093.4,440.0 1097.8,439.3 1101.6,436.3 1105.3,439.3 1109.0,425.1 1113.5,429.6 1117.2,437.1 1121.7,435.6 1125.4,437.8 1129.9,435.6 1133.6,438.6 1138.1,428.1 1141.8,436.3 1146.2,440.0 1150.0,428.9 1154.4,437.8 1158.2,429.6 1162.6,432.6 1167.1,441.5 1170.8,429.6 1175.3,435.6 1179.8,434.1 1183.5,434.8 1191.0,440.8 1195.4,431.9 1199.9,431.9 1203.6,443.0 1208.1,446.0 1211.8,433.3 1216.3,437.8 1220.7,437.8 1225.2,435.6 1229.7,439.3 1233.4,439.3 1237.1,429.6 1241.6,437.8 1245.3,444.5 1249.8,437.1 1254.3,430.4 1261.0,430.4 1268.4,436.3 1274.4,435.6 1280.3,437.8 1286.3,434.1 1290.8,436.3 1295.2,442.3 1299.1,435.8 1303.3,441.1 1308.0,434.0 1315.1,434.0 1319.9,438.8 1324.0,429.9 1328.8,436.4 1335.9,436.4 1340.6,440.6 1344.8,435.8 1348.9,436.4 1353.1,432.3 1357.2,439.4 1360.8,429.9 1365.5,427.5 1369.7,434.0 1374.4,431.1 1379.1,432.9 1382.7,437.6 1386.3,437.6 1390.4,441.1 1398.1,439.4 1402.8,434.0 1408.8,438.2 1411.1,441.1 1414.7,436.4 1418.8,442.9 1427.7,435.2 1431.3,438.2 1435.4,429.3 1439.6,434.0 1447.9,433.4 1452.6,435.2 1456.2,431.1 1460.3,430.5 1464.5,437.6 1469.2,437.6 1472.8,429.3 1477.5,428.1 1482.3,439.4 1485.8,439.4 1489.4,430.5 1494.1,427.5 1497.7,440.6 1500.0,435.9 1506.1,427.5 1513.7,429.8 1522.9,439.7 1530.5,435.1 1534.3,442.7 1542.7,427.5 1548.8,434.4 1559.4,441.2 1564.0,426.0 1568.6,435.9 1576.2,432.1 1580.8,435.9 1588.4,438.2 1594.5,434.4 1605.1,434.4 1609.7,438.2 1614.3,428.3 1618.8,429.8 1624.9,437.4 1631.0,432.1 1638.7,438.2 1643.2,433.6 1652.4,434.4 1660.0,432.1 1663.0,439.7 1671.4,426.8 1676.8,432.8 1680.6,431.3 1684.4,437.4 1688.9,431.3 1696.6,429.8 1700.4,432.1 1704.9,424.5 1708.8,436.7 1712.6,425.2 1716.4,439.7 1721.0,439.7 1725.5,431.3 1730.1,437.4 1734.6,432.8 1740.7,432.8 1746.1,426.8 1749.9,438.9 1754.5,432.8 1760.5,432.8 1767.0,430.6" fill="none" stroke="#000" stroke-width="4.2" stroke-linecap="butt" stroke-linejoin="round" clip-path="url(#cb1)" />
<rect x="1038.00" y="35.05" width="728.50" height="611.45" fill="none" stroke="#000" stroke-width="2.0" stroke-linejoin="miter"/>
<line x1="1029.25" y1="35.05" x2="1038.00" y2="35.05" stroke="#000" stroke-width="2.0" />
<text x="1020.30" y="47.40" font-size="32.5" text-anchor="end">−84</text>
<line x1="1029.25" y1="111.48" x2="1038.00" y2="111.48" stroke="#000" stroke-width="2.0" />
<text x="1020.30" y="123.83" font-size="32.5" text-anchor="end">−86</text>
<line x1="1029.25" y1="187.91" x2="1038.00" y2="187.91" stroke="#000" stroke-width="2.0" />
<text x="1020.30" y="200.26" font-size="32.5" text-anchor="end">−88</text>
<line x1="1029.25" y1="264.34" x2="1038.00" y2="264.34" stroke="#000" stroke-width="2.0" />
<text x="1020.30" y="276.69" font-size="32.5" text-anchor="end">−90</text>
<line x1="1029.25" y1="340.77" x2="1038.00" y2="340.77" stroke="#000" stroke-width="2.0" />
<text x="1020.30" y="353.12" font-size="32.5" text-anchor="end">−92</text>
<line x1="1029.25" y1="417.20" x2="1038.00" y2="417.20" stroke="#000" stroke-width="2.0" />
<text x="1020.30" y="429.55" font-size="32.5" text-anchor="end">−94</text>
<line x1="1029.25" y1="493.63" x2="1038.00" y2="493.63" stroke="#000" stroke-width="2.0" />
<text x="1020.30" y="505.98" font-size="32.5" text-anchor="end">−96</text>
<line x1="1029.25" y1="570.06" x2="1038.00" y2="570.06" stroke="#000" stroke-width="2.0" />
<text x="1020.30" y="582.41" font-size="32.5" text-anchor="end">−98</text>
<line x1="1029.25" y1="646.49" x2="1038.00" y2="646.49" stroke="#000" stroke-width="2.0" />
<text x="1020.30" y="658.84" font-size="32.5" text-anchor="end">−100</text>
<text x="932.00" y="340.80" font-size="32.5" text-anchor="middle" transform="rotate(-90 932.00 340.80)">Output power (dBm)</text>
<rect x="1504.00" y="51.80" width="246.50" height="101.20" rx="6" ry="6" fill="#fff" stroke="#cccccc" stroke-width="2.2"/>
<polyline points="1513.5,76.6 1584.0,76.6" fill="none" stroke="#ff0000" stroke-width="4.2" stroke-linecap="butt" stroke-linejoin="round" />
<polyline points="1513.5,122.7 1584.0,122.7" fill="none" stroke="#000" stroke-width="4.2" stroke-linecap="butt" stroke-linejoin="round" />
<text x="1607.00" y="88.50" font-size="32.5" text-anchor="start">JPA ON</text>
<text x="1607.00" y="134.70" font-size="32.5" text-anchor="start">JPA OFF</text>
<polyline points="1038.6,918.4 1042.9,885.8 1045.4,928.7 1051.5,977.6 1055.7,867.7 1063.5,974.2 1068.6,963.0 1072.1,903.8 1075.5,942.4 1080.6,945.8 1084.9,996.5 1092.7,932.1 1100.4,1030.0 1105.5,917.5 1109.0,1005.9 1113.3,939.8 1117.5,989.6 1121.8,941.5 1124.4,1014.5 1129.6,1030.8 1133.9,1031.7 1138.1,1039.4 1142.4,1023.9 1145.9,1060.9 1154.5,1065.2 1158.7,1030.8 1163.9,1052.3 1168.6,1087.2 1172.0,1087.2 1174.6,1120.7 1179.7,1118.1 1183.2,1087.2 1187.5,1115.5 1191.8,1084.6 1196.0,1107.0 1199.5,1113.8 1203.8,1129.3 1208.1,1091.5 1212.4,1140.4 1216.7,1076.9 1221.0,1151.6 1225.2,1142.2 1229.2,1153.3 1233.0,1126.7 1238.1,1138.7 1241.5,1158.5 1245.8,1154.2 1249.3,1135.3 1253.6,1144.7 1257.9,1167.1 1261.3,1161.9 1265.6,1179.9 1269.9,1142.2 1274.2,1165.3 1279.3,1172.2 1282.8,1180.8 1287.0,1211.7 1291.3,1163.6 1299.1,1216.9 1303.4,1183.4 1307.7,1214.3 1311.9,1221.1 1316.2,1209.1 1320.5,1204.8 1324.0,1224.6 1328.3,1202.3 1332.6,1221.1 1336.0,1213.4 1340.3,1225.4 1344.6,1217.7 1348.9,1241.8 1353.2,1243.5 1357.4,1221.1 1361.7,1240.9 1366.0,1245.2 1370.3,1240.0 1374.6,1242.6 1378.1,1240.9 1382.3,1254.6 1386.6,1235.7 1390.1,1262.4 1394.4,1238.3 1398.7,1252.0 1402.9,1248.6 1406.4,1253.8 1410.8,1258.3 1414.8,1239.9 1418.9,1261.7 1423.0,1253.5 1427.1,1261.7 1431.8,1257.6 1435.2,1276.6 1440.0,1250.8 1444.0,1263.0 1448.1,1274.6 1452.9,1271.9 1456.3,1248.8 1460.3,1254.9 1464.4,1252.2 1468.5,1263.7 1473.3,1258.3 1477.3,1242.7 1481.4,1254.2 1485.5,1260.3 1490.2,1258.3 1497.7,1231.8 1501.8,1243.3 1505.9,1237.2 1509.9,1240.6 1514.0,1235.9 1518.1,1254.9 1526.2,1223.0 1534.4,1241.3 1539.2,1196.5 1543.2,1219.6 1548.0,1216.2 1552.1,1212.1 1555.5,1212.1 1559.5,1196.5 1564.3,1208.0 1567.7,1176.8 1571.1,1196.5 1576.5,1206.7 1583.3,1157.1 1588.7,1155.7 1592.8,1183.6 1596.9,1178.8 1601.4,1202.7 1604.7,1168.9 1608.6,1162.1 1613.4,1144.8 1617.6,1162.1 1621.7,1138.0 1625.9,1158.3 1630.8,1153.4 1634.6,1135.1 1638.5,1109.0 1642.4,1139.0 1646.6,1107.1 1651.1,1155.4 1655.9,1125.4 1659.7,1111.0 1663.2,1085.8 1667.9,1113.8 1671.3,1165.0 1675.6,1096.5 1680.0,1146.7 1683.9,1065.6 1688.1,1048.2 1691.0,1077.1 1696.4,1082.9 1701.3,1071.3 1706.1,1051.1 1709.0,972.8 1712.9,1089.7 1717.7,1055.9 1721.2,986.4 1725.0,1069.4 1729.3,1000.8 1733.1,1026.9 1737.6,1071.3 1741.3,1017.3 1746.1,959.3 1750.5,1050.1 1754.8,1049.1 1758.6,1007.6 1762.5,1079.1 1765.6,998.0 1767.0,985.0" fill="none" stroke="#000" stroke-width="3.9" stroke-linecap="butt" stroke-linejoin="round" clip-path="url(#cb2)" />
<rect x="1038.00" y="691.50" width="728.50" height="611.75" fill="none" stroke="#000" stroke-width="2.0" stroke-linejoin="miter"/>
<line x1="1029.25" y1="1299.75" x2="1038.00" y2="1299.75" stroke="#000" stroke-width="2.0" />
<text x="1020.30" y="1312.10" font-size="32.5" text-anchor="end">0.0</text>
<line x1="1029.25" y1="1231.40" x2="1038.00" y2="1231.40" stroke="#000" stroke-width="2.0" />
<text x="1020.30" y="1243.75" font-size="32.5" text-anchor="end">0.1</text>
<line x1="1029.25" y1="1163.05" x2="1038.00" y2="1163.05" stroke="#000" stroke-width="2.0" />
<text x="1020.30" y="1175.40" font-size="32.5" text-anchor="end">0.2</text>
<line x1="1029.25" y1="1094.70" x2="1038.00" y2="1094.70" stroke="#000" stroke-width="2.0" />
<text x="1020.30" y="1107.05" font-size="32.5" text-anchor="end">0.3</text>
<line x1="1029.25" y1="1026.35" x2="1038.00" y2="1026.35" stroke="#000" stroke-width="2.0" />
<text x="1020.30" y="1038.70" font-size="32.5" text-anchor="end">0.4</text>
<line x1="1029.25" y1="958.00" x2="1038.00" y2="958.00" stroke="#000" stroke-width="2.0" />
<text x="1020.30" y="970.35" font-size="32.5" text-anchor="end">0.5</text>
<line x1="1029.25" y1="889.65" x2="1038.00" y2="889.65" stroke="#000" stroke-width="2.0" />
<text x="1020.30" y="902.00" font-size="32.5" text-anchor="end">0.6</text>
<line x1="1029.25" y1="821.30" x2="1038.00" y2="821.30" stroke="#000" stroke-width="2.0" />
<text x="1020.30" y="833.65" font-size="32.5" text-anchor="end">0.7</text>
<line x1="1029.25" y1="752.95" x2="1038.00" y2="752.95" stroke="#000" stroke-width="2.0" />
<text x="1020.30" y="765.30" font-size="32.5" text-anchor="end">0.8</text>
<line x1="1137.90" y1="1303.25" x2="1137.90" y2="1312.00" stroke="#000" stroke-width="2.0" />
<text x="1137.90" y="1346.59" font-size="32.5" text-anchor="middle">−400</text>
<line x1="1270.00" y1="1303.25" x2="1270.00" y2="1312.00" stroke="#000" stroke-width="2.0" />
<text x="1270.00" y="1346.59" font-size="32.5" text-anchor="middle">−200</text>
<line x1="1402.10" y1="1303.25" x2="1402.10" y2="1312.00" stroke="#000" stroke-width="2.0" />
<text x="1402.10" y="1346.59" font-size="32.5" text-anchor="middle">0</text>
<line x1="1534.20" y1="1303.25" x2="1534.20" y2="1312.00" stroke="#000" stroke-width="2.0" />
<text x="1534.20" y="1346.59" font-size="32.5" text-anchor="middle">200</text>
<line x1="1666.30" y1="1303.25" x2="1666.30" y2="1312.00" stroke="#000" stroke-width="2.0" />
<text x="1666.30" y="1346.59" font-size="32.5" text-anchor="middle">400</text>
<text x="957.00" y="1000.00" font-size="33" text-anchor="middle" transform="rotate(-90 957.00 1000.00)"><tspan font-family="'DejaVu Sans', sans-serif" font-style="oblique">T</tspan><tspan font-family="'DejaVu Sans', sans-serif" font-style="oblique" font-size="23.10" dy="6.60">n</tspan><tspan dy="-6.60"> </tspan>(K)</text>
<text x="1402.10" y="1389.00" font-size="32.5" text-anchor="middle"><tspan font-family="'DejaVu Sans', sans-serif" font-style="oblique">δf</tspan> (kHz)</text>
<rect x="1145.30" y="494.00" width="540.30" height="431.80" fill="#fff"/>
<polyline points="1170.2,850.3 1170.7,869.1 1171.2,888.8 1171.7,880.6 1172.2,886.1 1172.7,861.7 1173.2,871.2 1173.7,851.3 1174.2,870.5 1174.7,868.4 1175.2,868.5 1175.7,884.0 1176.2,878.3 1176.6,863.2 1177.1,881.9 1177.6,875.7 1178.1,877.9 1178.6,871.3 1179.1,881.7 1179.6,879.5 1180.1,875.3 1180.6,876.7 1181.1,886.9 1181.6,868.0 1182.1,891.3 1182.5,890.1 1183.0,890.8 1183.5,866.7 1184.0,880.7 1184.5,887.1 1185.0,888.8 1185.5,872.0 1186.0,887.7 1186.5,889.8 1187.0,869.6 1187.5,888.8 1188.0,879.3 1188.5,875.8 1188.9,880.4 1189.4,876.1 1189.9,861.1 1190.4,880.8 1190.9,888.6 1191.4,894.7 1191.9,877.2 1192.4,878.7 1192.9,872.0 1193.4,879.7 1193.9,879.8 1194.4,882.3 1194.8,880.0 1195.3,872.7 1195.8,878.3 1196.3,873.1 1196.8,853.8 1197.3,868.9 1197.8,890.8 1198.3,855.3 1198.8,870.0 1199.3,883.7 1199.8,863.9 1200.3,873.3 1200.8,879.9 1201.2,880.0 1201.7,883.8 1202.2,872.6 1202.7,861.6 1203.2,876.4 1203.7,868.3 1204.2,852.7 1204.7,885.6 1205.2,869.7 1205.7,875.7 1206.2,883.6 1206.7,883.2 1207.1,872.3 1207.6,867.4 1208.1,877.6 1208.6,871.2 1209.1,864.0 1209.6,868.5 1210.1,862.4 1210.6,866.9 1211.1,866.7 1211.6,852.5 1212.1,865.4 1212.6,870.8 1213.1,864.6 1213.5,882.1 1214.0,876.0 1214.5,864.0 1215.0,865.8 1215.5,856.1 1216.0,872.6 1216.5,888.4 1217.0,852.1 1217.5,861.3 1218.0,884.4 1218.5,858.5 1219.0,872.9 1219.4,892.7 1219.9,877.9 1220.4,878.9 1220.9,856.5 1221.4,882.0 1221.9,876.3 1222.4,876.6 1222.9,877.7 1223.4,883.5 1223.9,871.4 1224.4,862.3 1224.9,867.2 1225.4,883.8 1225.8,886.3 1226.3,872.8 1226.8,881.6 1227.3,880.9 1227.8,892.1 1228.3,853.4 1228.8,864.5 1229.3,884.7 1229.8,864.6 1230.3,860.0 1230.8,899.8 1231.3,880.2 1231.7,878.5 1232.2,867.4 1232.7,875.7 1233.2,876.8 1233.7,875.0 1234.2,854.6 1234.7,851.3 1235.2,880.0 1235.7,884.3 1236.2,845.6 1236.7,884.9 1237.2,880.5 1237.7,874.0 1238.1,869.2 1238.6,863.4 1239.1,870.2 1239.6,883.5 1240.1,868.6 1240.6,871.2 1241.1,853.6 1241.6,873.7 1242.1,887.6 1242.6,884.3 1243.1,857.5 1243.6,878.5 1244.0,895.1 1244.5,878.6 1245.0,872.2 1245.5,859.4 1246.0,882.7 1246.5,864.6 1247.0,863.0 1247.5,878.8 1248.0,873.1 1248.5,852.1 1249.0,852.4 1249.5,861.5 1250.0,867.0 1250.4,858.3 1250.9,871.8 1251.4,871.2 1251.9,879.3 1252.4,869.9 1252.9,870.7 1253.4,840.1 1253.9,871.7 1254.4,855.9 1254.9,855.3 1255.4,871.3 1255.9,856.7 1256.3,892.3 1256.8,867.9 1257.3,859.6 1257.8,894.3 1258.3,880.9 1258.8,857.2 1259.3,871.3 1259.8,880.4 1260.3,872.8 1260.8,874.7 1261.3,861.3 1261.8,864.3 1262.3,872.2 1262.7,876.5 1263.2,870.0 1263.7,855.4 1264.2,866.0 1264.7,863.0 1265.2,871.5 1265.7,883.8 1266.2,877.7 1266.7,863.3 1267.2,869.2 1267.7,880.1 1268.2,887.8 1268.6,869.5 1269.1,874.4 1269.6,874.7 1270.1,874.5 1270.6,868.1 1271.1,868.1 1271.6,861.1 1272.1,861.6 1272.6,857.4 1273.1,863.1 1273.6,875.4 1274.1,872.5 1274.6,866.8 1275.0,875.5 1275.5,866.4 1276.0,860.1 1276.5,881.1 1277.0,891.5 1277.5,860.0 1278.0,872.7 1278.5,865.4 1279.0,887.1 1279.5,854.3 1280.0,864.8 1280.5,874.0 1280.9,876.3 1281.4,871.2 1281.9,874.2 1282.4,875.3 1282.9,884.2 1283.4,858.6 1283.9,872.5 1284.4,871.1 1284.9,870.9 1285.4,896.9 1285.9,866.0 1286.4,875.1 1286.9,874.6 1287.3,870.7 1287.8,881.7 1288.3,862.1 1288.8,878.2 1289.3,880.1 1289.8,879.3 1290.3,868.1 1290.8,861.4 1291.3,875.4 1291.8,884.8 1292.3,857.0 1292.8,879.3 1293.2,854.8 1293.7,867.7 1294.2,874.2 1294.7,873.2 1295.2,861.1 1295.7,856.1 1296.2,867.3 1296.7,854.7 1297.2,842.1 1297.7,866.2 1298.2,875.9 1298.7,874.9 1299.2,878.5 1299.6,870.4 1300.1,871.3 1300.6,877.7 1301.1,857.8 1301.6,891.4 1302.1,877.5 1302.6,841.9 1303.1,852.3 1303.6,857.7 1304.1,858.4 1304.6,844.3 1305.1,857.5 1305.5,862.3 1306.0,876.2 1306.5,863.8 1307.0,870.8 1307.5,870.4 1308.0,870.5 1308.5,863.3 1309.0,866.4 1309.5,853.5 1310.0,877.0 1310.5,864.6 1311.0,842.9 1311.5,862.3 1311.9,849.9 1312.4,850.6 1312.9,848.7 1313.4,854.8 1313.9,877.4 1314.4,865.5 1314.9,866.7 1315.4,879.1 1315.9,867.5 1316.4,875.9 1316.9,880.3 1317.4,860.3 1317.8,862.8 1318.3,869.3 1318.8,871.7 1319.3,866.9 1319.8,865.0 1320.3,864.7 1320.8,860.5 1321.3,864.2 1321.8,854.9 1322.3,853.1 1322.8,854.4 1323.3,864.9 1323.8,863.9 1324.2,852.2 1324.7,858.5 1325.2,856.4 1325.7,882.1 1326.2,883.9 1326.7,851.0 1327.2,850.6 1327.7,838.9 1328.2,845.8 1328.7,851.0 1329.2,853.0 1329.7,868.2 1330.1,843.3 1330.6,859.0 1331.1,846.9 1331.6,849.9 1332.1,848.9 1332.6,842.1 1333.1,856.6 1333.6,855.3 1334.1,860.1 1334.6,854.7 1335.1,832.7 1335.6,854.1 1336.1,837.3 1336.5,840.9 1337.0,841.6 1337.5,840.5 1338.0,859.5 1338.5,844.3 1339.0,830.9 1339.5,854.8 1340.0,847.5 1340.5,853.9 1341.0,842.7 1341.5,857.1 1342.0,828.0 1342.4,848.7 1342.9,860.7 1343.4,824.6 1343.9,832.9 1344.4,837.3 1344.9,836.6 1345.4,845.7 1345.9,843.7 1346.4,833.1 1346.9,830.5 1347.4,829.9 1347.9,837.1 1348.4,843.9 1348.8,840.5 1349.3,826.1 1349.8,822.0 1350.3,840.5 1350.8,841.5 1351.3,822.5 1351.8,827.6 1352.3,827.4 1352.8,848.3 1353.3,837.7 1353.8,838.7 1354.3,830.4 1354.7,850.0 1355.2,817.9 1355.7,827.6 1356.2,825.6 1356.7,842.3 1357.2,829.3 1357.7,814.2 1358.2,844.6 1358.7,824.0 1359.2,819.2 1359.7,833.4 1360.2,816.7 1360.7,828.2 1361.1,810.9 1361.6,817.7 1362.1,820.3 1362.6,800.5 1363.1,812.3 1363.6,806.4 1364.1,832.3 1364.6,825.7 1365.1,809.1 1365.6,807.5 1366.1,816.9 1366.6,807.1 1367.0,825.8 1367.5,811.1 1368.0,824.6 1368.5,807.6 1369.0,815.3 1369.5,815.8 1370.0,807.3 1370.5,787.3 1371.0,816.3 1371.5,810.8 1372.0,791.8 1372.5,806.5 1373.0,781.8 1373.4,797.1 1373.9,797.3 1374.4,793.2 1374.9,777.1 1375.4,787.4 1375.9,787.6 1376.4,789.1 1376.9,807.3 1377.4,798.9 1377.9,772.5 1378.4,778.4 1378.9,780.6 1379.3,778.0 1379.8,789.4 1380.3,778.8 1380.8,790.8 1381.3,775.7 1381.8,786.3 1382.3,779.7 1382.8,771.2 1383.3,778.3 1383.8,766.5 1384.3,767.2 1384.8,766.8 1385.3,755.1 1385.7,783.5 1386.2,783.4 1386.7,758.3 1387.2,753.3 1387.7,740.3 1388.2,752.1 1388.7,749.7 1389.2,766.4 1389.7,747.2 1390.2,746.4 1390.7,763.1 1391.2,759.6 1391.6,749.4 1392.1,743.3 1392.6,776.0 1393.1,741.9 1393.6,738.2 1394.1,740.6 1394.6,733.9 1395.1,729.8 1395.6,743.4 1396.1,726.0 1396.6,730.9 1397.1,735.8 1397.6,721.0 1398.0,704.7 1398.5,733.4 1399.0,732.6 1399.5,729.7 1400.0,687.9 1400.5,708.6 1401.0,703.3 1401.5,707.7 1402.0,706.0 1402.5,714.1 1403.0,687.0 1403.5,682.4 1403.9,702.5 1404.4,688.7 1404.9,681.3 1405.4,669.2 1405.9,661.7 1406.4,647.5 1406.9,639.9 1407.4,638.0 1407.9,629.8 1408.4,651.3 1408.9,639.4 1409.4,615.8 1409.9,619.6 1410.3,617.1 1410.8,633.1 1411.3,626.7 1411.8,594.0 1412.3,593.1 1412.8,594.5 1413.3,590.0 1413.8,598.0 1414.3,569.3 1414.8,555.8 1415.3,543.0 1415.8,553.7 1416.2,550.4 1416.7,554.4 1417.2,524.5 1417.7,514.7 1418.2,535.4 1418.7,522.4 1419.2,521.9 1419.7,527.2 1420.2,546.9 1420.7,524.4 1421.2,515.2 1421.7,539.1 1422.1,535.4 1422.6,565.0 1423.1,520.3 1423.6,533.2 1424.1,543.0 1424.6,551.8 1425.1,561.3 1425.6,561.1 1426.1,569.3 1426.6,574.2 1427.1,577.4 1427.6,581.0 1428.1,571.0 1428.5,607.8 1429.0,594.1 1429.5,608.3 1430.0,618.8 1430.5,637.0 1431.0,610.5 1431.5,632.9 1432.0,635.8 1432.5,628.2 1433.0,650.1 1433.5,643.5 1434.0,649.7 1434.4,645.4 1434.9,648.0 1435.4,672.6 1435.9,657.9 1436.4,673.0 1436.9,674.5 1437.4,681.8 1437.9,674.8 1438.4,699.4 1438.9,687.0 1439.4,680.4 1439.9,699.1 1440.4,677.5 1440.8,710.0 1441.3,702.7 1441.8,713.0 1442.3,717.3 1442.8,725.4 1443.3,722.0 1443.8,719.6 1444.3,730.5 1444.8,715.3 1445.3,711.3 1445.8,746.7 1446.3,724.1 1446.7,733.7 1447.2,735.9 1447.7,714.9 1448.2,731.0 1448.7,742.9 1449.2,747.2 1449.7,774.7 1450.2,745.9 1450.7,764.7 1451.2,757.3 1451.7,760.6 1452.2,753.8 1452.7,744.7 1453.1,758.2 1453.6,757.3 1454.1,775.6 1454.6,770.3 1455.1,768.9 1455.6,794.5 1456.1,759.4 1456.6,790.8 1457.1,798.7 1457.6,769.5 1458.1,766.2 1458.6,798.2 1459.0,799.0 1459.5,761.0 1460.0,794.8 1460.5,818.9 1461.0,806.0 1461.5,779.8 1462.0,795.7 1462.5,796.4 1463.0,792.9 1463.5,800.3 1464.0,812.6 1464.5,827.5 1465.0,807.2 1465.4,825.2 1465.9,815.0 1466.4,796.7 1466.9,810.7 1467.4,816.9 1467.9,817.8 1468.4,811.7 1468.9,810.5 1469.4,835.3 1469.9,820.1 1470.4,804.5 1470.9,815.5 1471.3,832.5 1471.8,832.3 1472.3,847.8 1472.8,835.0 1473.3,810.1 1473.8,828.7 1474.3,837.7 1474.8,835.4 1475.3,831.2 1475.8,831.9 1476.3,835.4 1476.8,840.6 1477.3,826.3 1477.7,817.4 1478.2,840.6 1478.7,841.1 1479.2,823.3 1479.7,852.3 1480.2,843.7 1480.7,842.1 1481.2,836.9 1481.7,842.3 1482.2,849.5 1482.7,837.3 1483.2,853.9 1483.6,860.5 1484.1,864.1 1484.6,835.1 1485.1,862.2 1485.6,839.5 1486.1,837.7 1486.6,836.8 1487.1,847.8 1487.6,852.4 1488.1,846.1 1488.6,853.9 1489.1,861.8 1489.6,835.2 1490.0,858.7 1490.5,830.5 1491.0,844.6 1491.5,855.5 1492.0,846.4 1492.5,838.4 1493.0,866.7 1493.5,862.3 1494.0,864.1 1494.5,851.6 1495.0,849.5 1495.5,854.0 1495.9,862.5 1496.4,860.8 1496.9,843.0 1497.4,844.2 1497.9,855.2 1498.4,871.0 1498.9,850.8 1499.4,854.8 1499.9,855.6 1500.4,840.3 1500.9,850.4 1501.4,870.0 1501.9,870.3 1502.3,845.7 1502.8,858.6 1503.3,851.7 1503.8,862.7 1504.3,872.1 1504.8,858.8 1505.3,845.2 1505.8,858.5 1506.3,874.3 1506.8,865.8 1507.3,868.0 1507.8,860.9 1508.2,852.1 1508.7,842.0 1509.2,860.8 1509.7,867.9 1510.2,862.7 1510.7,863.5 1511.2,868.4 1511.7,863.7 1512.2,864.1 1512.7,876.9 1513.2,858.6 1513.7,868.4 1514.2,875.2 1514.6,859.7 1515.1,870.4 1515.6,846.8 1516.1,860.6 1516.6,865.2 1517.1,874.3 1517.6,870.9 1518.1,857.7 1518.6,874.4 1519.1,859.2 1519.6,890.0 1520.1,865.7 1520.5,859.4 1521.0,864.7 1521.5,868.6 1522.0,858.0 1522.5,878.2 1523.0,879.8 1523.5,868.4 1524.0,856.9 1524.5,865.3 1525.0,872.2 1525.5,867.1 1526.0,865.7 1526.5,883.9 1526.9,900.8 1527.4,881.9 1527.9,887.0 1528.4,877.4 1528.9,884.2 1529.4,880.8 1529.9,867.1 1530.4,870.8 1530.9,872.2 1531.4,854.4 1531.9,877.1 1532.4,876.4 1532.8,858.9 1533.3,884.4 1533.8,890.1 1534.3,858.7 1534.8,869.0 1535.3,866.1 1535.8,865.6 1536.3,862.7 1536.8,877.3 1537.3,873.0 1537.8,884.0 1538.3,870.5 1538.8,869.4 1539.2,876.6 1539.7,864.6 1540.2,840.1 1540.7,883.8 1541.2,862.5 1541.7,861.2 1542.2,859.8 1542.7,879.7 1543.2,858.2 1543.7,863.9 1544.2,872.3 1544.7,874.8 1545.1,868.7 1545.6,861.6 1546.1,862.3 1546.6,847.5 1547.1,875.9 1547.6,865.7 1548.1,877.1 1548.6,864.3 1549.1,871.5 1549.6,879.4 1550.1,887.4 1550.6,881.7 1551.1,871.1 1551.5,858.2 1552.0,865.8 1552.5,887.1 1553.0,879.7 1553.5,874.4 1554.0,876.2 1554.5,874.1 1555.0,866.4 1555.5,872.4 1556.0,882.0 1556.5,895.1 1557.0,878.1 1557.4,892.3 1557.9,876.0 1558.4,870.9 1558.9,888.4 1559.4,875.6 1559.9,877.7 1560.4,853.7 1560.9,869.0 1561.4,894.0 1561.9,869.0 1562.4,869.2 1562.9,875.6 1563.4,877.3 1563.8,867.0 1564.3,866.5 1564.8,869.1 1565.3,884.5 1565.8,876.7 1566.3,890.8 1566.8,890.3 1567.3,880.4 1567.8,885.8 1568.3,879.1 1568.8,848.3 1569.3,869.7 1569.7,884.5 1570.2,898.3 1570.7,884.3 1571.2,890.8 1571.7,899.1 1572.2,868.0 1572.7,881.0 1573.2,871.3 1573.7,843.2 1574.2,873.7 1574.7,875.6 1575.2,873.5 1575.7,880.3 1576.1,886.6 1576.6,880.4 1577.1,866.2 1577.6,881.6 1578.1,893.7 1578.6,892.6 1579.1,890.6 1579.6,879.8 1580.1,875.1 1580.6,875.4 1581.1,868.1 1581.6,883.2 1582.0,872.3 1582.5,878.0 1583.0,874.2 1583.5,901.2 1584.0,867.9 1584.5,897.5 1585.0,892.7 1585.5,872.1 1586.0,884.3 1586.5,861.0 1587.0,877.9 1587.5,890.4 1588.0,877.5 1588.4,883.2 1588.9,862.1 1589.4,861.1 1589.9,870.4 1590.4,882.3 1590.9,876.9 1591.4,866.4 1591.9,885.9 1592.4,885.6 1592.9,867.8 1593.4,869.1 1593.9,879.6 1594.3,880.2 1594.8,898.3 1595.3,865.0 1595.8,879.1 1596.3,893.2 1596.8,890.2 1597.3,887.8 1597.8,860.3 1598.3,871.2 1598.8,893.0 1599.3,859.1 1599.8,864.8 1600.3,890.5 1600.7,907.7 1601.2,869.2 1601.7,886.1 1602.2,881.3 1602.7,885.6 1603.2,866.4 1603.7,864.0 1604.2,871.0 1604.7,881.2 1605.2,876.7 1605.7,872.7 1606.2,896.1 1606.6,865.9 1607.1,882.4 1607.6,876.1 1608.1,877.3 1608.6,869.0 1609.1,867.2 1609.6,854.9 1610.1,882.1 1610.6,887.8 1611.1,876.6 1611.6,884.9 1612.1,868.6 1612.6,886.2 1613.0,876.2 1613.5,867.5 1614.0,866.7 1614.5,875.4 1615.0,862.5 1615.5,863.8 1616.0,895.7 1616.5,873.6 1617.0,875.5 1617.5,880.6 1618.0,884.2 1618.5,876.9 1618.9,873.3 1619.4,874.4 1619.9,862.8 1620.4,866.7 1620.9,883.6 1621.4,885.4 1621.9,868.2 1622.4,884.7 1622.9,875.7 1623.4,872.6 1623.9,866.9 1624.4,872.5 1624.9,862.8 1625.3,883.3 1625.8,871.5 1626.3,885.9 1626.8,877.0 1627.3,877.9 1627.8,889.3 1628.3,907.4 1628.8,869.6 1629.3,876.1 1629.8,878.7 1630.3,887.9 1630.8,884.2 1631.2,875.9 1631.7,880.8 1632.2,868.8 1632.7,879.8 1633.2,889.6 1633.7,874.1 1634.2,887.2 1634.7,878.0 1635.2,899.4 1635.7,883.7 1636.2,873.8 1636.7,886.5 1637.2,879.7 1637.6,872.9 1638.1,878.3 1638.6,859.8 1639.1,881.4 1639.6,880.4 1640.1,880.0 1640.6,899.2 1641.1,894.3 1641.6,872.0 1642.1,881.0 1642.6,862.7 1643.1,878.3 1643.5,879.3 1644.0,866.5 1644.5,874.5 1645.0,860.3 1645.5,888.7 1646.0,872.7 1646.5,870.1 1647.0,871.4 1647.5,865.1 1648.0,866.3 1648.5,876.9 1649.0,883.2 1649.5,866.8 1649.9,876.6 1650.4,866.9 1650.9,862.6 1651.4,874.9 1651.9,886.6 1652.4,879.5 1652.9,868.2 1653.4,879.0 1653.9,863.7 1654.4,875.6 1654.9,874.5 1655.4,882.4 1655.8,876.6 1656.3,863.8 1656.8,879.0 1657.3,878.8 1657.8,883.4 1658.3,866.7 1658.8,891.1 1659.3,881.8 1659.8,865.0 1660.3,859.4 1660.8,876.9 1661.3,864.1 1661.8,895.5" fill="none" stroke="#0000ff" stroke-width="3.4" stroke-linecap="butt" stroke-linejoin="miter" clip-path="url(#cb3)" />
<rect x="1145.30" y="494.00" width="540.30" height="431.80" fill="none" stroke="#000" stroke-width="2.0" stroke-linejoin="miter"/>
<line x1="1136.55" y1="881.30" x2="1145.30" y2="881.30" stroke="#000" stroke-width="2.0" />
<text x="1127.60" y="892.70" font-size="30" text-anchor="end">0</text>
<line x1="1136.55" y1="795.20" x2="1145.30" y2="795.20" stroke="#000" stroke-width="2.0" />
<text x="1127.60" y="806.60" font-size="30" text-anchor="end">5</text>
<line x1="1136.55" y1="709.10" x2="1145.30" y2="709.10" stroke="#000" stroke-width="2.0" />
<text x="1127.60" y="720.50" font-size="30" text-anchor="end">10</text>
<line x1="1136.55" y1="623.00" x2="1145.30" y2="623.00" stroke="#000" stroke-width="2.0" />
<text x="1127.60" y="634.40" font-size="30" text-anchor="end">15</text>
<line x1="1136.55" y1="536.90" x2="1145.30" y2="536.90" stroke="#000" stroke-width="2.0" />
<text x="1127.60" y="548.30" font-size="30" text-anchor="end">20</text>
<line x1="1219.40" y1="925.80" x2="1219.40" y2="934.55" stroke="#000" stroke-width="2.0" />
<text x="1219.40" y="967.25" font-size="30" text-anchor="middle">−2</text>
<line x1="1317.70" y1="925.80" x2="1317.70" y2="934.55" stroke="#000" stroke-width="2.0" />
<text x="1317.70" y="967.25" font-size="30" text-anchor="middle">−1</text>
<line x1="1416.00" y1="925.80" x2="1416.00" y2="934.55" stroke="#000" stroke-width="2.0" />
<text x="1416.00" y="967.25" font-size="30" text-anchor="middle">0</text>
<line x1="1514.30" y1="925.80" x2="1514.30" y2="934.55" stroke="#000" stroke-width="2.0" />
<text x="1514.30" y="967.25" font-size="30" text-anchor="middle">1</text>
<line x1="1612.60" y1="925.80" x2="1612.60" y2="934.55" stroke="#000" stroke-width="2.0" />
<text x="1612.60" y="967.25" font-size="30" text-anchor="middle">2</text>
<text x="1175.60" y="711.00" font-size="30" text-anchor="middle" transform="rotate(-90 1175.60 711.00)">Gain (dB)</text>
<text x="1415.50" y="1010.00" font-size="30" text-anchor="middle"><tspan font-family="'DejaVu Sans', sans-serif" font-style="oblique">δf</tspan> (MHz)</text>
<circle cx="27.6" cy="30.5" r="24.4" fill="#fff" stroke="#000" stroke-width="1.5"/>
<text x="26.60" y="42.90" font-size="37" text-anchor="middle" font-weight="bold">A</text>
<circle cx="917.0" cy="30.6" r="24.4" fill="#fff" stroke="#000" stroke-width="1.5"/>
<text x="918.30" y="42.90" font-size="37" text-anchor="middle" font-weight="bold">B</text>
</svg>
</body></html>
